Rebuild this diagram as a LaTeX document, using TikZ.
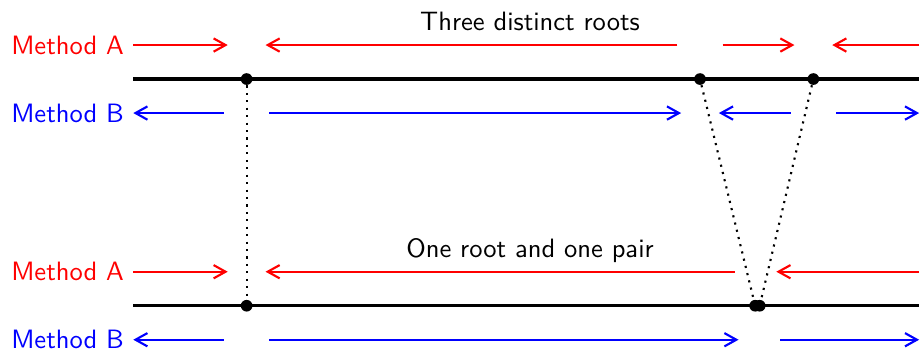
\documentclass[tikz,border=0pt]{standalone}
\usetikzlibrary{arrows.meta}
\begin{document}
\begin{tikzpicture}[font=\sffamily, >={Straight Barb[length=4.5pt, width=5pt]},
  axis/.style={very thick},
  root/.style={circle, fill, inner sep=0pt, minimum size=4.4pt},
  link/.style={thick, dotted},
  arrA/.style={->, thick, red},
  arrB/.style={->, thick, blue},
  gap/.style={shorten <=3mm, shorten >=2.5mm}]
\useasboundingbox (-1.764,-3.6) rectangle (10.438,1.046);

\coordinate (s1) at (0,0);
\coordinate (r1) at (1.5,0);
\coordinate (r2) at (7.5,0);
\coordinate (r3) at (9,0);
\coordinate (e1) at (10.4,0);

\coordinate (s2) at (0,-3);
\coordinate (q1) at (1.5,-3);
\coordinate (q2) at (8.26,-3);
\coordinate (e2) at (10.4,-3);

\draw[axis] (s1) -- (e1);
\draw[axis] (s2) -- (e2);

\node[root] (d1) at (r1) {};
\node[root] (d2) at (r2) {};
\node[root] (d3) at (r3) {};
\node[root] (d4) at (q1) {};
\node[root] (d5) at ([xshift=-0.3mm]q2) {};
\node[root] (d6) at ([xshift=0.3mm]q2) {};

\draw[link] (d1) -- (d4);
\draw[link] (d2) -- (d5);
\draw[link] (d3) -- (d6);

\node[anchor=base] (t1) at (5.25,0.64) {Three distinct roots};
\node[anchor=base] (t2) at (5.25,-2.36) {One root and one pair};

\node[left, red] (la1) at ([yshift=4.5mm]s1) {Method A};
\node[left, blue] (lb1) at ([yshift=-4.5mm]s1) {Method B};
\node[left, red] (la2) at ([yshift=4.5mm]s2) {Method A};
\node[left, blue] (lb2) at ([yshift=-4.5mm]s2) {Method B};

\draw[arrA, shorten >=2.5mm] ([yshift=4.5mm]s1) -- ([yshift=4.5mm]r1);
\draw[arrA, gap] ([yshift=4.5mm]r2) -- ([yshift=4.5mm]r1);
\draw[arrA, gap] ([yshift=4.5mm]r2) -- ([yshift=4.5mm]r3);
\draw[arrA, shorten >=2.5mm] ([yshift=4.5mm]e1) -- ([yshift=4.5mm]r3);

\draw[arrB, shorten <=3mm] ([yshift=-4.5mm]r1) -- ([yshift=-4.5mm]s1);
\draw[arrB, gap] ([yshift=-4.5mm]r1) -- ([yshift=-4.5mm]r2);
\draw[arrB, gap] ([yshift=-4.5mm]r3) -- ([yshift=-4.5mm]r2);
\draw[arrB, shorten <=3mm] ([yshift=-4.5mm]r3) -- ([yshift=-4.5mm]e1);

\draw[arrA, shorten >=2.5mm] ([yshift=4.5mm]s2) -- ([yshift=4.5mm]q1);
\draw[arrA, gap] ([yshift=4.5mm]q2) -- ([yshift=4.5mm]q1);
\draw[arrA, shorten >=2.5mm] ([yshift=4.5mm]e2) -- ([yshift=4.5mm]q2);

\draw[arrB, shorten <=3mm] ([yshift=-4.5mm]q1) -- ([yshift=-4.5mm]s2);
\draw[arrB, gap] ([yshift=-4.5mm]q1) -- ([yshift=-4.5mm]q2);
\draw[arrB, shorten <=3mm] ([yshift=-4.5mm]q2) -- ([yshift=-4.5mm]e2);
\end{tikzpicture}
\end{document}
